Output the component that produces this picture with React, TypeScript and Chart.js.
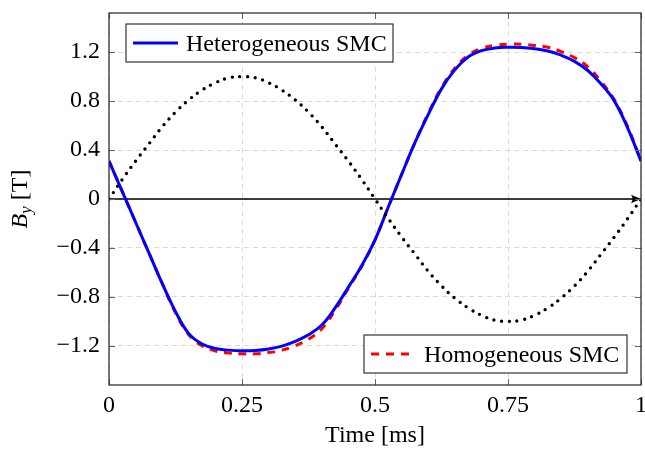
import React, { useEffect, useRef } from "react";
import { Chart, registerables } from "chart.js";

Chart.register(...registerables);

const time = [0, 0.025, 0.05, 0.075, 0.1, 0.125, 0.15, 0.175, 0.2, 0.225, 0.25, 0.275, 0.3, 0.325, 0.35, 0.375, 0.4, 0.425, 0.45, 0.475, 0.5, 0.525, 0.55, 0.575, 0.6, 0.625, 0.65, 0.675, 0.7, 0.725, 0.75, 0.775, 0.8, 0.825, 0.85, 0.875, 0.9, 0.925, 0.95, 0.975, 1];

const heterogeneous = [0.31, 0.06, -0.19, -0.44, -0.69, -0.92, -1.1, -1.185, -1.222, -1.235, -1.24, -1.238, -1.226, -1.202, -1.163, -1.11, -1.03, -0.89, -0.72, -0.545, -0.335, -0.065, 0.2, 0.46, 0.69, 0.9, 1.055, 1.16, 1.212, 1.234, 1.24, 1.238, 1.228, 1.21, 1.175, 1.125, 1.05, 0.94, 0.8, 0.58, 0.31];

const homogeneous = [0.31, 0.06, -0.19, -0.44, -0.69, -0.93, -1.11, -1.2, -1.242, -1.258, -1.265, -1.265, -1.255, -1.235, -1.2, -1.145, -1.06, -0.91, -0.73, -0.55, -0.335, -0.065, 0.2, 0.46, 0.7, 0.91, 1.068, 1.175, 1.23, 1.256, 1.265, 1.265, 1.255, 1.24, 1.205, 1.155, 1.08, 0.96, 0.81, 0.59, 0.31];

const reference = [0, 0.16, 0.31, 0.45, 0.59, 0.71, 0.81, 0.89, 0.95, 0.99, 1.0, 0.99, 0.95, 0.89, 0.81, 0.71, 0.59, 0.45, 0.31, 0.16, 0, -0.16, -0.31, -0.45, -0.59, -0.71, -0.81, -0.89, -0.95, -0.99, -1.0, -0.99, -0.95, -0.89, -0.81, -0.71, -0.59, -0.45, -0.31, -0.16, 0];

const xTickValues = [0, 0.25, 0.5, 0.75, 1];
const xTickLabels = ["0", "0.25", "0.5", "0.75", "1"];
const yTickValues = [-1.2, -0.8, -0.4, 0, 0.4, 0.8, 1.2];
const yTickLabels = ["\u22121.2", "\u22120.8", "\u22120.4", "0", "0.4", "0.8", "1.2"];

const legendLabels = ["Heterogeneous SMC", "Homogeneous SMC"];
const xTitle = "Time [ms]";

const FONT = "'Liberation Serif', 'Times New Roman', serif";

const toPoints = (ys: number[]) => time.map((t, i) => ({ x: t, y: ys[i] }));

const decorPlugin = {
  id: "decor",
  beforeDatasetsDraw(chart: any) {
    const { ctx, scales } = chart;
    const xs = scales.x;
    const ys = scales.y;
    const y0 = ys.getPixelForValue(0);
    const xa = xs.getPixelForValue(0);
    const xb = xs.getPixelForValue(1);
    ctx.save();
    ctx.strokeStyle = "#000";
    ctx.lineWidth = 1.3;
    ctx.beginPath();
    ctx.moveTo(xa, y0);
    ctx.lineTo(xb - 6, y0);
    ctx.stroke();
    ctx.fillStyle = "#000";
    ctx.beginPath();
    ctx.moveTo(xb, y0);
    ctx.lineTo(xb - 10, y0 - 4.2);
    ctx.quadraticCurveTo(xb - 7, y0, xb - 10, y0 + 4.2);
    ctx.closePath();
    ctx.fill();
    ctx.restore();
  },
  afterDatasetsDraw(chart: any) {
    const { ctx, chartArea: a, scales } = chart;
    ctx.save();
    ctx.strokeStyle = "#666";
    ctx.lineWidth = 1;
    const tl = 6;
    yTickValues.forEach((v) => {
      const y = Math.round(scales.y.getPixelForValue(v)) + 0.5;
      ctx.beginPath();
      ctx.moveTo(a.left, y);
      ctx.lineTo(a.left + tl, y);
      ctx.moveTo(a.right, y);
      ctx.lineTo(a.right - tl, y);
      ctx.stroke();
    });
    xTickValues.forEach((v) => {
      const x = Math.round(scales.x.getPixelForValue(v)) + 0.5;
      ctx.beginPath();
      ctx.moveTo(x, a.bottom);
      ctx.lineTo(x, a.bottom - tl);
      ctx.moveTo(x, a.top);
      ctx.lineTo(x, a.top + tl);
      ctx.stroke();
    });
    ctx.strokeStyle = "#222";
    ctx.lineWidth = 1.2;
    ctx.strokeRect(a.left, a.top, a.right - a.left, a.bottom - a.top);

    const drawLegend = (
      bx: number, by: number, bw: number, bh: number,
      label: string, color: string, dash: number[]
    ) => {
      ctx.fillStyle = "#fff";
      ctx.fillRect(bx, by, bw, bh);
      ctx.strokeStyle = "#333";
      ctx.lineWidth = 1.2;
      ctx.strokeRect(bx, by, bw, bh);
      ctx.strokeStyle = color;
      ctx.lineWidth = 3.2;
      ctx.setLineDash(dash);
      ctx.beginPath();
      ctx.moveTo(bx + 7, by + bh / 2);
      ctx.lineTo(bx + 52, by + bh / 2);
      ctx.stroke();
      ctx.setLineDash([]);
      ctx.fillStyle = "#000";
      ctx.font = `24px ${FONT}`;
      ctx.textBaseline = "alphabetic";
      ctx.textAlign = "left";
      ctx.fillText(label, bx + 60, by + bh / 2 + 8);
    };
    drawLegend(a.left + 17, a.top + 11, 267, 38, legendLabels[0], "#0000ff", []);
    drawLegend(a.right - 277, a.bottom - 50, 263, 38, legendLabels[1], "#ff0000", [8, 7]);
    ctx.restore();
  },
  afterDraw(chart: any) {
    const { ctx, chartArea: a } = chart;
    ctx.save();
    ctx.fillStyle = "#000";
    ctx.font = `24px ${FONT}`;
    ctx.textAlign = "center";
    ctx.textBaseline = "alphabetic";
    ctx.fillText(xTitle, (a.left + a.right) / 2, 442);

    const cy = (a.top + a.bottom) / 2;
    ctx.translate(27, cy);
    ctx.rotate(-Math.PI / 2);
    ctx.textAlign = "left";
    const fB = `italic 24px ${FONT}`;
    const fSub = `italic 17px ${FONT}`;
    const fR = `24px ${FONT}`;
    ctx.font = fB;
    const wB = ctx.measureText("B").width;
    ctx.font = fSub;
    const wy = ctx.measureText("y").width;
    ctx.font = fR;
    const wT = ctx.measureText(" [T]").width;
    const total = wB + wy + wT;
    let x = -total / 2;
    ctx.font = fB;
    ctx.fillText("B", x, 0);
    x += wB;
    ctx.font = fSub;
    ctx.fillText("y", x, 4);
    x += wy;
    ctx.font = fR;
    ctx.fillText(" [T]", x, 0);
    ctx.restore();
  },
};

export default function App() {
  const ref = useRef<HTMLCanvasElement | null>(null);
  useEffect(() => {
    if (!ref.current) return;
    const chart = new Chart(ref.current, {
      type: "line",
      data: {
        datasets: [
          {
            label: "reference",
            data: toPoints(reference),
            borderColor: "#000",
            borderWidth: 3.4,
            borderDash: [0, 7.7],
            borderCapStyle: "round",
            pointRadius: 0,
            tension: 0.4,
            fill: false,
          },
          {
            label: legendLabels[0],
            data: toPoints(heterogeneous),
            borderColor: "#0000ff",
            borderWidth: 3,
            pointRadius: 0,
            tension: 0.4,
            fill: false,
          },
          {
            label: legendLabels[1],
            data: toPoints(homogeneous),
            borderColor: "#ff0000",
            borderWidth: 3,
            borderDash: [7.5, 7],
            pointRadius: 0,
            tension: 0.4,
            fill: false,
          },
        ],
      },
      options: {
        responsive: false,
        animation: false,
        layout: { padding: { top: 13, right: 4, left: 0, bottom: 0 } },
        plugins: { legend: { display: false }, tooltip: { enabled: false } },
        scales: {
          x: {
            type: "linear",
            min: 0,
            max: 1,
            afterBuildTicks: (s: any) => {
              s.ticks = xTickValues.map((v) => ({ value: v }));
            },
            afterFit: (s: any) => {
              s.height = 64;
              s.paddingLeft = 0;
              s.paddingRight = 0;
            },
            ticks: {
              autoSkip: false,
              maxRotation: 0,
              padding: 6,
              color: "#000",
              font: { family: FONT, size: 24 },
              callback: (v: any) => {
                const i = xTickValues.findIndex((t) => Math.abs(t - v) < 1e-9);
                return i >= 0 ? xTickLabels[i] : "";
              },
            },
            grid: { color: "#dadada", lineWidth: 1, drawTicks: false },
            border: { display: false, dash: [5, 4] },
          },
          y: {
            type: "linear",
            min: -1.52,
            max: 1.52,
            afterBuildTicks: (s: any) => {
              s.ticks = yTickValues.map((v) => ({ value: v }));
            },
            afterFit: (s: any) => {
              s.width = 109;
              s.paddingTop = 0;
              s.paddingBottom = 0;
            },
            ticks: {
              autoSkip: false,
              padding: 9,
              color: "#000",
              font: { family: FONT, size: 24 },
              callback: (v: any) => {
                const i = yTickValues.findIndex((t) => Math.abs(t - v) < 1e-9);
                return i >= 0 ? yTickLabels[i] : "";
              },
            },
            grid: { color: "#dadada", lineWidth: 1, drawTicks: false },
            border: { display: false, dash: [5, 4] },
          },
        },
      },
      plugins: [decorPlugin],
    } as any);
    return () => chart.destroy();
  }, []);
  return (
    <div style={{ position: "absolute", left: 0, top: 0, width: 645, height: 449, background: "#fff" }}>
      <canvas ref={ref} width={645} height={449} />
    </div>
  );
}
